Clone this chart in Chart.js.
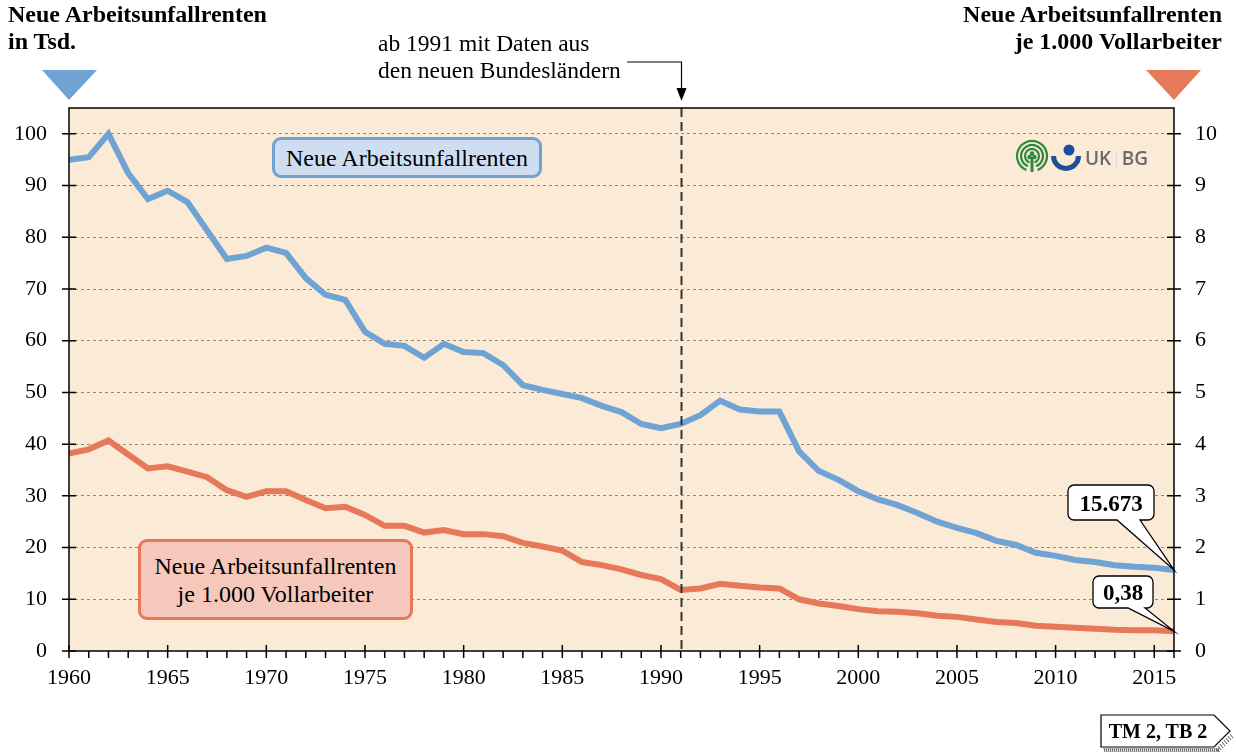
<!DOCTYPE html>
<html>
<head>
<meta charset="utf-8">
<script src="https://cdn.jsdelivr.net/npm/chart.js@4.4.1/dist/chart.umd.min.js"></script>
<style>
body { margin: 0; background: #fff; }
#wrap { position: relative; width: 1236px; height: 753px; font-family: 'Liberation Serif', 'Times New Roman', serif; color: #000; }
#wrap canvas { position: absolute; left: 0; top: 0; }
.t { position: absolute; white-space: nowrap; }
.title { font-weight: bold; font-size: 24px; line-height: 27px; }
.box { position: absolute; box-sizing: border-box; border-radius: 9px; border: 3px solid; font-size: 24px; line-height: 28px; text-align: center; display: flex; align-items: center; justify-content: center; }
.lbl { position: absolute; font-weight: bold; font-size: 23px; text-align: center; line-height: 1; }
</style>
</head>
<body>
<div id="wrap">
  <canvas id="chart" width="1236" height="753"></canvas>
  <div class="t title" style="left:8px;top:1px;">Neue Arbeitsunfallrenten<br>in Tsd.</div>
  <div class="t title" style="right:14px;top:1px;text-align:right;">Neue Arbeitsunfallrenten<br>je 1.000 Vollarbeiter</div>
  <div class="t" style="left:378px;top:30px;font-size:23.5px;line-height:27px;">ab 1991 mit Daten aus<br>den neuen Bundesländern</div>
  <div class="box" style="left:272px;top:137px;width:270px;height:41px;background:#cfddf1;border-color:#6fa3d3;">Neue Arbeitsunfallrenten</div>
  <div class="box" style="left:138px;top:539px;width:275px;height:81px;background:#f5c8bb;border-color:#e5795a;">Neue Arbeitsunfallrenten<br>je 1.000 Vollarbeiter</div>
  <div class="lbl" style="left:1068px;top:492px;width:86px;">15.673</div>
  <div class="lbl" style="left:1093px;top:581px;width:60px;">0,38</div>
  <div class="lbl" style="left:1101px;top:721px;width:114px;font-size:20px;">TM 2, TB 2</div>
  <div class="t" style="left:1085px;top:149px;font-family:'Open Sans',sans-serif;font-weight:600;font-size:19px;color:#6b6b6b;line-height:1;">UK<span style="color:#ddd;font-weight:400;">|</span>BG</div>
</div>
<script>
// Daten
const jahre = [1960, 1961, 1962, 1963, 1964, 1965, 1966, 1967, 1968, 1969,
    1970, 1971, 1972, 1973, 1974, 1975, 1976, 1977, 1978, 1979,
    1980, 1981, 1982, 1983, 1984, 1985, 1986, 1987, 1988, 1989,
    1990, 1991, 1992, 1993, 1994, 1995, 1996, 1997, 1998, 1999,
    2000, 2001, 2002, 2003, 2004, 2005, 2006, 2007, 2008, 2009,
    2010, 2011, 2012, 2013, 2014, 2015, 2016];

// Neue Arbeitsunfallrenten in Tsd.
const rentenTsd = [95.0, 95.5, 100.0, 92.4, 87.4, 89.0, 86.8, 81.3, 75.8, 76.4,
    78.0, 77.0, 72.1, 68.9, 67.9, 61.7, 59.4, 59.0, 56.7, 59.4,
    57.8, 57.6, 55.3, 51.4, 50.5, 49.7, 48.9, 47.4, 46.2, 43.9,
    43.1, 43.9, 45.6, 48.4, 46.7, 46.3, 46.3, 38.6, 34.8, 33.1,
    30.9, 29.3, 28.2, 26.7, 25.0, 23.8, 22.8, 21.3, 20.5, 19.0,
    18.4, 17.6, 17.2, 16.6, 16.3, 16.1, 15.673];

// Neue Arbeitsunfallrenten je 1.000 Vollarbeiter
const rentenJe1000 = [3.82, 3.90, 4.07, 3.80, 3.53, 3.57, 3.47, 3.36, 3.11, 2.98,
    3.09, 3.09, 2.92, 2.76, 2.79, 2.63, 2.42, 2.42, 2.29, 2.34,
    2.26, 2.26, 2.22, 2.09, 2.02, 1.94, 1.72, 1.66, 1.58, 1.47,
    1.39, 1.18, 1.21, 1.30, 1.26, 1.23, 1.21, 1.00, 0.92, 0.87,
    0.81, 0.77, 0.76, 0.73, 0.68, 0.66, 0.61, 0.56, 0.54, 0.49,
    0.47, 0.45, 0.43, 0.41, 0.40, 0.40, 0.38];

const ticksLinks = [0, 10, 20, 30, 40, 50, 60, 70, 80, 90, 100];
const ticksRechts = [0, 1, 2, 3, 4, 5, 6, 7, 8, 9, 10];
const jahrWende = 1991;

const BLAU = '#6fa3d3';
const ORANGE = '#e5795a';
const SERIF = "'Liberation Serif', 'Times New Roman', serif";

// Sprechblase mit Spitze
function callout(ctx, x, y, w, h, bx1, bx2, tx, ty) {
    const r = 6;
    ctx.beginPath();
    ctx.moveTo(x + r, y);
    ctx.lineTo(x + w - r, y);
    ctx.arcTo(x + w, y, x + w, y + r, r);
    ctx.lineTo(x + w, y + h - r);
    ctx.arcTo(x + w, y + h, x + w - r, y + h, r);
    ctx.lineTo(bx2, y + h);
    ctx.lineTo(tx, ty);
    ctx.lineTo(bx1, y + h);
    ctx.lineTo(x + r, y + h);
    ctx.arcTo(x, y + h, x, y + h - r, r);
    ctx.lineTo(x, y + r);
    ctx.arcTo(x, y, x + r, y, r);
    ctx.closePath();
    ctx.fillStyle = '#fff';
    ctx.fill();
    ctx.strokeStyle = '#000';
    ctx.lineWidth = 1.3;
    ctx.stroke();
}

function drawLogo(ctx) {
    // gruenes Symbol
    ctx.save();
    ctx.strokeStyle = '#2b8a3b';
    ctx.lineWidth = 2.2;
    [15, 11, 7].forEach(r => {
        ctx.beginPath();
        ctx.arc(1032, 156, r, 0.62 * Math.PI, 2.38 * Math.PI);
        ctx.stroke();
    });
    ctx.fillStyle = '#2b8a3b';
    ctx.fillRect(1030.5, 157, 3, 15);
    [[1029.5, 157], [1034.5, 157], [1032, 153.5]].forEach(p => {
        ctx.beginPath();
        ctx.arc(p[0], p[1], 2.2, 0, 2 * Math.PI);
        ctx.fill();
    });
    // blaues Symbol
    ctx.fillStyle = '#1f4f9b';
    ctx.beginPath();
    ctx.arc(1069, 150, 5.5, 0, 2 * Math.PI);
    ctx.fill();
    ctx.beginPath();
    ctx.arc(1066, 156, 15, 0, Math.PI);
    ctx.lineTo(1056, 156);
    ctx.arc(1066, 156, 10, Math.PI, 0, true);
    ctx.closePath();
    ctx.fill();
    ctx.restore();
}

const dekor = {
    id: 'dekor',
    beforeDraw(chart) {
        const { ctx, chartArea: a } = chart;
        ctx.save();
        ctx.fillStyle = '#fbead6';
        ctx.fillRect(a.left, a.top, a.right - a.left, a.bottom - a.top);
        ctx.restore();
    },
    afterDatasetsDraw(chart) {
        const { ctx, chartArea: a } = chart;
        const x = Math.round(chart.scales.x.getPixelForValue(jahrWende)) + 0.5;
        ctx.save();
        ctx.strokeStyle = '#333';
        ctx.lineWidth = 2;
        ctx.setLineDash([9, 5]);
        ctx.beginPath();
        ctx.moveTo(x, a.top);
        ctx.lineTo(x, a.bottom);
        ctx.stroke();
        ctx.restore();
    },
    afterDraw(chart) {
        const { ctx, chartArea: a, scales } = chart;
        ctx.save();
        // Rahmen
        ctx.strokeStyle = '#000';
        ctx.lineWidth = 1.5;
        ctx.strokeRect(a.left, a.top, a.right - a.left, a.bottom - a.top);

        // Achsenstriche
        ctx.lineWidth = 1.5;
        ctx.beginPath();
        scales.y.ticks.forEach(t => {
            const y = scales.y.getPixelForValue(t.value);
            ctx.moveTo(a.left - 7, y);
            ctx.lineTo(a.left + 7, y);
        });
        scales.y2.ticks.forEach(t => {
            const y = scales.y2.getPixelForValue(t.value);
            ctx.moveTo(a.right - 7, y);
            ctx.lineTo(a.right + 7, y);
        });
        scales.x.ticks.forEach(t => {
            const x = scales.x.getPixelForValue(t.value);
            ctx.moveTo(x, t.value % 5 === 0 ? a.bottom - 6 : a.bottom);
            ctx.lineTo(x, a.bottom + 7);
        });
        ctx.stroke();

        // Dreiecke ueber den Achsen
        ctx.fillStyle = BLAU;
        ctx.beginPath();
        ctx.moveTo(a.left - 27, 70);
        ctx.lineTo(a.left + 28, 70);
        ctx.lineTo(a.left, 100);
        ctx.closePath();
        ctx.fill();
        ctx.fillStyle = ORANGE;
        ctx.beginPath();
        ctx.moveTo(a.right - 28, 70);
        ctx.lineTo(a.right + 27, 70);
        ctx.lineTo(a.right, 100);
        ctx.closePath();
        ctx.fill();

        // Pfeil zur Linie 1991
        const xw = Math.round(scales.x.getPixelForValue(jahrWende)) + 0.5;
        ctx.strokeStyle = '#000';
        ctx.lineWidth = 1.2;
        ctx.beginPath();
        ctx.moveTo(627, 62);
        ctx.lineTo(xw, 62);
        ctx.lineTo(xw, 92);
        ctx.stroke();
        ctx.fillStyle = '#000';
        ctx.beginPath();
        ctx.moveTo(xw - 5, 88);
        ctx.lineTo(xw + 5, 88);
        ctx.lineTo(xw, 101);
        ctx.closePath();
        ctx.fill();

        // Wertbeschriftungen
        const xl = scales.x.getPixelForValue(jahre[jahre.length - 1]);
        callout(ctx, 1068, 485, 86, 35, 1117, 1140, xl, scales.y.getPixelForValue(rentenTsd[rentenTsd.length - 1]));
        callout(ctx, 1093, 576, 60, 32, 1128, 1145, xl, scales.y2.getPixelForValue(rentenJe1000[rentenJe1000.length - 1]));

        // Kennung unten rechts
        ctx.strokeStyle = '#555';
        ctx.lineWidth = 1;
        ctx.beginPath();
        for (let x = 1104; x <= 1218; x += 2) {
            ctx.moveTo(x, 748);
            ctx.lineTo(x + 1, 752);
        }
        for (let i = 0; i < 8; i++) {
            ctx.moveTo(1216 + i * 2, 748 - i * 2);
            ctx.lineTo(1219 + i * 2, 752 - i * 2);
        }
        ctx.stroke();
        ctx.fillStyle = '#fff';
        ctx.strokeStyle = '#000';
        ctx.lineWidth = 1.2;
        ctx.beginPath();
        ctx.moveTo(1101, 715);
        ctx.lineTo(1214, 715);
        ctx.lineTo(1230, 731);
        ctx.lineTo(1214, 747);
        ctx.lineTo(1101, 747);
        ctx.closePath();
        ctx.fill();
        ctx.stroke();

        drawLogo(ctx);
        ctx.restore();
    }
};

new Chart(document.getElementById('chart'), {
    type: 'line',
    data: {
        datasets: [{
            label: 'Neue Arbeitsunfallrenten',
            data: jahre.map((j, i) => ({ x: j, y: rentenTsd[i] })),
            borderColor: BLAU,
            borderWidth: 6,
            pointRadius: 0,
            tension: 0,
            yAxisID: 'y'
        }, {
            label: 'Neue Arbeitsunfallrenten je 1.000 Vollarbeiter',
            data: jahre.map((j, i) => ({ x: j, y: rentenJe1000[i] })),
            borderColor: ORANGE,
            borderWidth: 6,
            pointRadius: 0,
            tension: 0,
            yAxisID: 'y2'
        }]
    },
    options: {
        responsive: false,
        animation: false,
        events: [],
        layout: { padding: { top: 108, left: 0, right: 0, bottom: 0 } },
        plugins: { legend: { display: false }, tooltip: { enabled: false } },
        scales: {
            x: {
                type: 'linear',
                min: 1960,
                max: 2016,
                afterFit: s => { s.height = 102; },
                grid: { display: true, drawOnChartArea: false, drawTicks: false },
                border: { display: false },
                ticks: {
                    stepSize: 1,
                    autoSkip: false,
                    maxRotation: 0,
                    padding: 14,
                    color: '#000',
                    font: { family: SERIF, size: 22 },
                    callback: v => (v % 5 === 0 ? String(v) : '')
                }
            },
            y: {
                position: 'left',
                min: 0,
                max: 105,
                afterFit: s => { s.width = 69; },
                afterBuildTicks: s => { s.ticks = ticksLinks.map(v => ({ value: v })); },
                grid: {
                    drawTicks: false,
                    color: c => (c.tick && c.tick.value === 0 ? 'rgba(0,0,0,0)' : '#8e8a84'),
                    lineWidth: 1
                },
                border: { display: false, dash: [3, 3] },
                ticks: {
                    padding: 22,
                    color: '#000',
                    font: { family: SERIF, size: 22 }
                }
            },
            y2: {
                position: 'right',
                min: 0,
                max: 10.5,
                afterFit: s => { s.width = 62; },
                afterBuildTicks: s => { s.ticks = ticksRechts.map(v => ({ value: v })); },
                grid: { drawOnChartArea: false, drawTicks: false },
                border: { display: false },
                ticks: {
                    padding: 21,
                    color: '#000',
                    font: { family: SERIF, size: 22 }
                }
            }
        }
    },
    plugins: [dekor]
});
</script>
</body>
</html>
